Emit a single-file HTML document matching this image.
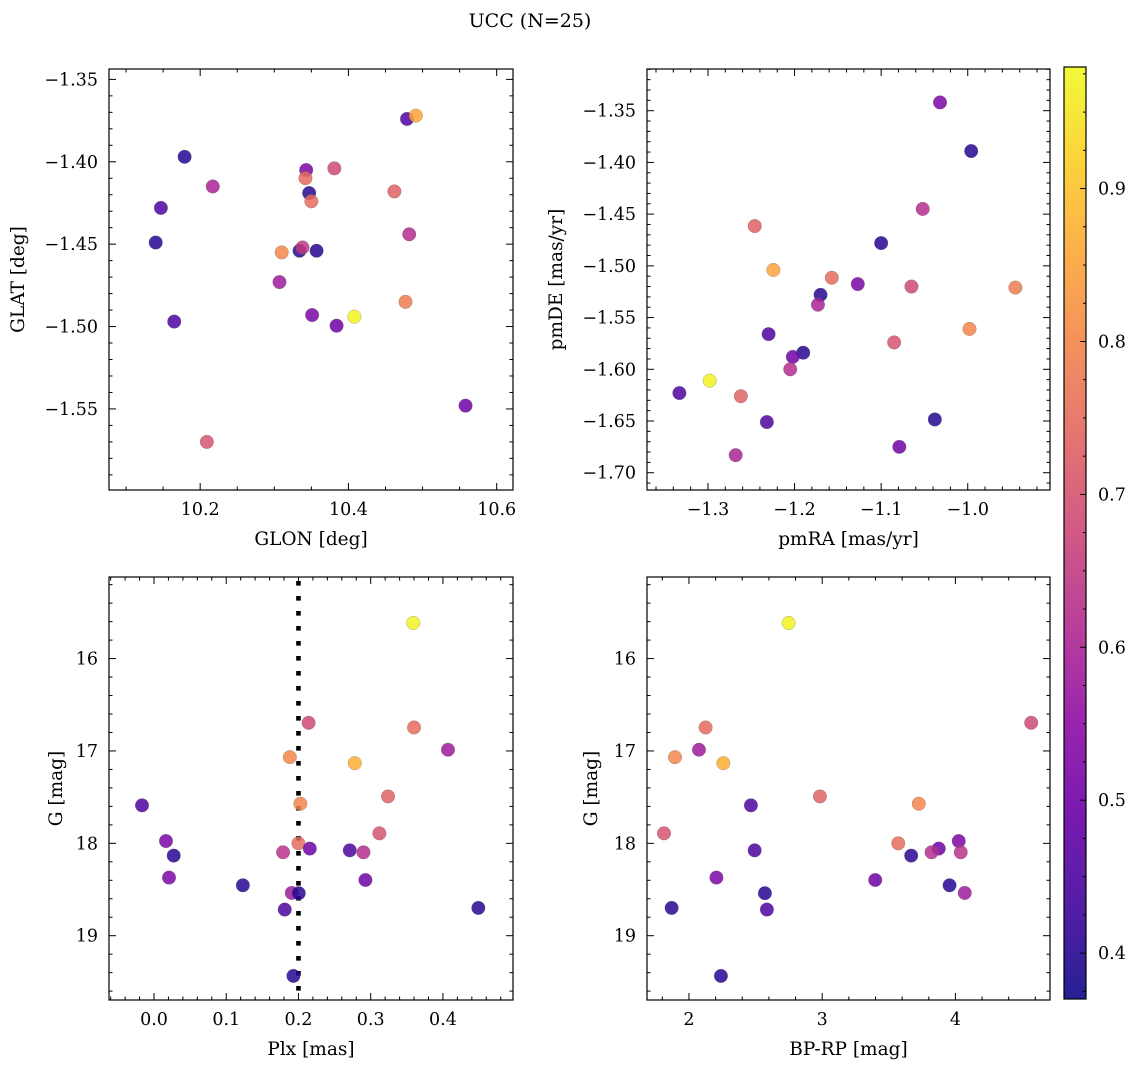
<!DOCTYPE html>
<html><head><meta charset="utf-8">
<style>
html,body{margin:0;padding:0;background:#fff;}
svg{display:block;font-family:"DejaVu Serif","Liberation Serif",serif;}
</style></head>
<body>
<svg id="fig" width="1136" height="1067" viewBox="0 0 1136 1067" xmlns="http://www.w3.org/2000/svg">
<defs id="defs"></defs>
<text x="530" y="27" text-anchor="middle" font-size="19">UCC (N=25)</text>
</svg>
<script>
// ---- data: top-left (GLON vs GLAT)
const glon = [10.479,10.491,10.179,10.217,10.343,10.342,10.381,10.347,10.350,10.462,10.147,10.140,10.482,10.310,10.334,10.338,10.357,10.307,10.477,10.351,10.408,10.384,10.165,10.558,10.209];
const glat = [-1.374,-1.372,-1.397,-1.415,-1.405,-1.410,-1.404,-1.419,-1.424,-1.418,-1.428,-1.449,-1.444,-1.455,-1.454,-1.452,-1.454,-1.473,-1.485,-1.493,-1.494,-1.4995,-1.497,-1.548,-1.570];
const probTL = [0.45,0.85,0.40,0.60,0.52,0.75,0.68,0.40,0.75,0.73,0.45,0.40,0.62,0.80,0.40,0.65,0.40,0.58,0.78,0.52,0.97,0.50,0.45,0.50,0.70];
// ---- data: top-right (pmRA vs pmDE)
const pmra = [-1.032,-0.996,-1.052,-1.246,-1.100,-1.2245,-1.157,-1.127,-1.065,-0.945,-1.170,-1.173,-0.998,-1.230,-1.085,-1.190,-1.202,-1.205,-1.298,-1.333,-1.262,-1.232,-1.038,-1.079,-1.268];
const pmde = [-1.342,-1.389,-1.445,-1.4615,-1.478,-1.504,-1.5115,-1.5176,-1.520,-1.521,-1.528,-1.5376,-1.561,-1.566,-1.574,-1.584,-1.588,-1.600,-1.611,-1.623,-1.626,-1.651,-1.6485,-1.675,-1.683];
const probTR = [0.52,0.40,0.62,0.73,0.40,0.85,0.75,0.52,0.68,0.78,0.40,0.60,0.80,0.45,0.70,0.40,0.50,0.62,0.97,0.45,0.73,0.45,0.40,0.50,0.60];
// ---- data: bottom panels (Plx, BP-RP vs G)
const plx = [0.359,0.214,0.360,0.407,0.188,0.278,0.324,0.2026,-0.0166,0.312,0.0166,0.200,0.2157,0.271,0.290,0.1787,0.0273,0.0208,0.2927,0.123,0.1907,0.2004,0.181,0.449,0.193];
const gmag = [15.614,16.695,16.746,16.987,17.067,17.132,17.492,17.571,17.589,17.892,17.975,18.0,18.057,18.076,18.097,18.097,18.133,18.371,18.397,18.454,18.537,18.54,18.717,18.699,19.435];
const bprp = [2.748,4.569,2.125,2.075,1.895,2.258,2.983,3.725,2.465,1.8125,4.025,3.571,3.875,2.493,3.821,4.04,3.668,2.206,3.398,3.956,4.07,2.57,2.585,1.87,2.24];
const probB = [0.97,0.68,0.75,0.58,0.80,0.87,0.73,0.80,0.45,0.70,0.52,0.75,0.50,0.45,0.62,0.63,0.40,0.52,0.50,0.40,0.58,0.40,0.45,0.40,0.40];
const plxLine = [0.2];
// ---- tick labels
const tlXTicks = [10.2,10.4,10.6];
const tlYTicks = [-1.35,-1.40,-1.45,-1.50,-1.55];
const trXTicks = [-1.3,-1.2,-1.1,-1.0];
const trYTicks = [-1.35,-1.40,-1.45,-1.50,-1.55,-1.60,-1.65,-1.70];
const blXTicks = [0.0,0.1,0.2,0.3,0.4];
const gTicks = [16,17,18,19];
const brXTicks = [2,3,4];
const cbTicks = [0.4,0.5,0.6,0.7,0.8,0.9];
const cbMin = 0.370, cbMax = 0.9795;

const NS = "http://www.w3.org/2000/svg";
const svg = document.getElementById('fig');
function mk(tag, attrs, parent){
  const e = document.createElementNS(NS, tag);
  for (const k in attrs) e.setAttribute(k, attrs[k]);
  (parent||svg).appendChild(e);
  return e;
}
const plasma = [[13,8,135],[65,4,157],[106,0,168],[143,13,164],[177,42,144],[204,71,120],[225,100,98],[242,132,75],[252,166,54],[252,206,37],[240,249,33]];
function cmap(v){
  let t = (v - cbMin)/(cbMax - cbMin); t = Math.max(0, Math.min(1, t));
  const f = t*10, i = Math.min(9, Math.floor(f)), r = f - i;
  const a = plasma[i], b = plasma[i+1];
  return 'rgb(' + [0,1,2].map(k => Math.round(a[k] + (b[k]-a[k])*r)).join(',') + ')';
}
function fmt(v, d){ return (v < 0 ? '\u2212' : '') + Math.abs(v).toFixed(d); }

function panel(cfg){
  const g = mk('g', {});
  
  
  const X = v => cfg.x0 + (v - cfg.xd[0])/(cfg.xd[1]-cfg.xd[0])*(cfg.x1-cfg.x0);
  const Y = v => cfg.y0 + (v - cfg.yd[0])/(cfg.yd[1]-cfg.yd[0])*(cfg.y1-cfg.y0);
  (cfg.vlines||[]).forEach(v => {
    const l = mk('line', {x1:X(v), x2:X(v), y1:cfg.y0+4, y2:cfg.y1, stroke:'#000', 'stroke-width':4.6, 'stroke-dasharray':'4.6,10.4'}, g);
    
    
  });
  cfg.xs.forEach((xv, i) => {
    const c = mk('circle', {cx:X(xv), cy:Y(cfg.ys[i]), r:6.8, fill:cmap(cfg.cs[i]), 'fill-opacity':0.85, stroke:'#666', 'stroke-opacity':0.5, 'stroke-width':0.5}, g);
    
    
  });
  const fr = mk('rect', {x:cfg.x0, y:cfg.y0, width:cfg.x1-cfg.x0, height:cfg.y1-cfg.y0, fill:'none', stroke:'#000', 'stroke-width':1.2}, g);
  
  
  const lo = Math.min(cfg.xd[0],cfg.xd[1]), hi = Math.max(cfg.xd[0],cfg.xd[1]);
  for (let k = Math.ceil(lo/cfg.xmin - 1e-6); k*cfg.xmin <= hi + 1e-9; k++){
    const v = k*cfg.xmin, px = X(v);
    const major = Math.abs(v/cfg.xmaj - Math.round(v/cfg.xmaj)) < 1e-6;
    const L = major ? 7 : 3.5;
    mk('line', {x1:px, x2:px, y1:cfg.y1, y2:cfg.y1-L, stroke:'#000', 'stroke-width':1}, g);
    mk('line', {x1:px, x2:px, y1:cfg.y0, y2:cfg.y0+L, stroke:'#000', 'stroke-width':1}, g);
  }
  const ylo = Math.min(cfg.yd[0],cfg.yd[1]), yhi = Math.max(cfg.yd[0],cfg.yd[1]);
  for (let k = Math.ceil(ylo/cfg.ymin - 1e-6); k*cfg.ymin <= yhi + 1e-9; k++){
    const v = k*cfg.ymin, py = Y(v);
    const major = Math.abs(v/cfg.ymaj - Math.round(v/cfg.ymaj)) < 1e-6;
    const L = major ? 7 : 3.5;
    mk('line', {x1:cfg.x0, x2:cfg.x0+L, y1:py, y2:py, stroke:'#000', 'stroke-width':1}, g);
    mk('line', {x1:cfg.x1, x2:cfg.x1-L, y1:py, y2:py, stroke:'#000', 'stroke-width':1}, g);
  }
  cfg.xt.forEach(v => {
    const t = mk('text', {x:X(v), y:cfg.y1+25, 'text-anchor':'middle', 'font-size':17.5}, g);
    t.textContent = fmt(v, cfg.xdec);
    
    
  });
  cfg.yt.forEach(v => {
    const t = mk('text', {x:cfg.x0-11, y:Y(v)+6, 'text-anchor':'end', 'font-size':17.5}, g);
    t.textContent = fmt(v, cfg.ydec);
    
    
  });
  const xl = mk('text', {x:(cfg.x0+cfg.x1)/2, y:cfg.y1+55, 'text-anchor':'middle', 'font-size':18.5}, g);
  xl.textContent = cfg.xlabel;
  
  
  const yx = cfg.ylx, yy = (cfg.y0+cfg.y1)/2;
  const yl = mk('text', {x:yx, y:yy, 'text-anchor':'middle', 'font-size':18.5, transform:'rotate(-90 '+yx+' '+yy+')'}, g);
  yl.textContent = cfg.ylabel;
  
  
}

panel({name:'glon-glat-panel', x0:109, x1:513, y0:69, y1:490, xd:[10.077,10.622], yd:[-1.3437,-1.5992],
  xs:glon, ys:glat, cs:probTL, xt:tlXTicks, yt:tlYTicks, xmaj:0.2, xmin:0.05, ymaj:0.05, ymin:0.01, xdec:1, ydec:2,
  xlabel:'GLON [deg]', ylabel:'GLAT [deg]', ylx:24});
panel({name:'pm-panel', x0:647, x1:1050, y0:69, y1:490, xd:[-1.3704,-0.905], yd:[-1.3097,-1.7167],
  xs:pmra, ys:pmde, cs:probTR, xt:trXTicks, yt:trYTicks, xmaj:0.1, xmin:0.02, ymaj:0.05, ymin:0.01, xdec:1, ydec:2,
  xlabel:'pmRA [mas/yr]', ylabel:'pmDE [mas/yr]', ylx:562});
panel({name:'plx-g-panel', x0:109, x1:513, y0:577, y1:1000, xd:[-0.0623,0.497], yd:[15.117,19.696],
  xs:plx, ys:gmag, cs:probB, xt:blXTicks, yt:gTicks, xmaj:0.1, xmin:0.02, ymaj:1, ymin:0.2, xdec:1, ydec:0,
  xlabel:'Plx [mas]', ylabel:'G [mag]', ylx:62, vlines:plxLine});
panel({name:'cmd-panel', x0:647, x1:1050, y0:577, y1:1000, xd:[1.685,4.710], yd:[15.117,19.696],
  xs:bprp, ys:gmag, cs:probB, xt:brXTicks, yt:gTicks, xmaj:1, xmin:0.2, ymaj:1, ymin:0.2, xdec:0, ydec:0,
  xlabel:'BP-RP [mag]', ylabel:'G [mag]', ylx:597});

// colorbar
const cbx0 = 1064, cbx1 = 1086, cby0 = 67, cby1 = 999;
const CY = v => cby1 - (v - cbMin)/(cbMax - cbMin)*(cby1 - cby0);
const grad = mk('linearGradient', {id:'cbg', x1:0, y1:1, x2:0, y2:0}, document.getElementById('defs'));
for (let i = 0; i <= 20; i++){
  const v = cbMin + (cbMax - cbMin)*i/20;
  mk('stop', {offset:(i/20), 'stop-color':cmap(v), 'stop-opacity':0.9}, grad);
}
const cb = mk('g', {});


mk('rect', {x:cbx0, y:cby0, width:cbx1-cbx0, height:cby1-cby0, fill:'url(#cbg)', stroke:'#000', 'stroke-width':1.2}, cb);
for (let k = Math.ceil(cbMin/0.025); k*0.025 <= cbMax; k++){
  const v = k*0.025, py = CY(v);
  const major = Math.abs(v*10 - Math.round(v*10)) < 1e-6;
  mk('line', {x1:cbx1, x2:cbx1-(major?6:3), y1:py, y2:py, stroke:'#000', 'stroke-width':1}, cb);
}
cbTicks.forEach(v => {
  const t = mk('text', {x:cbx1+12, y:CY(v)+6, 'font-size':17.5}, cb);
  t.textContent = v.toFixed(1);
  
  
});
</script>
</body></html>
